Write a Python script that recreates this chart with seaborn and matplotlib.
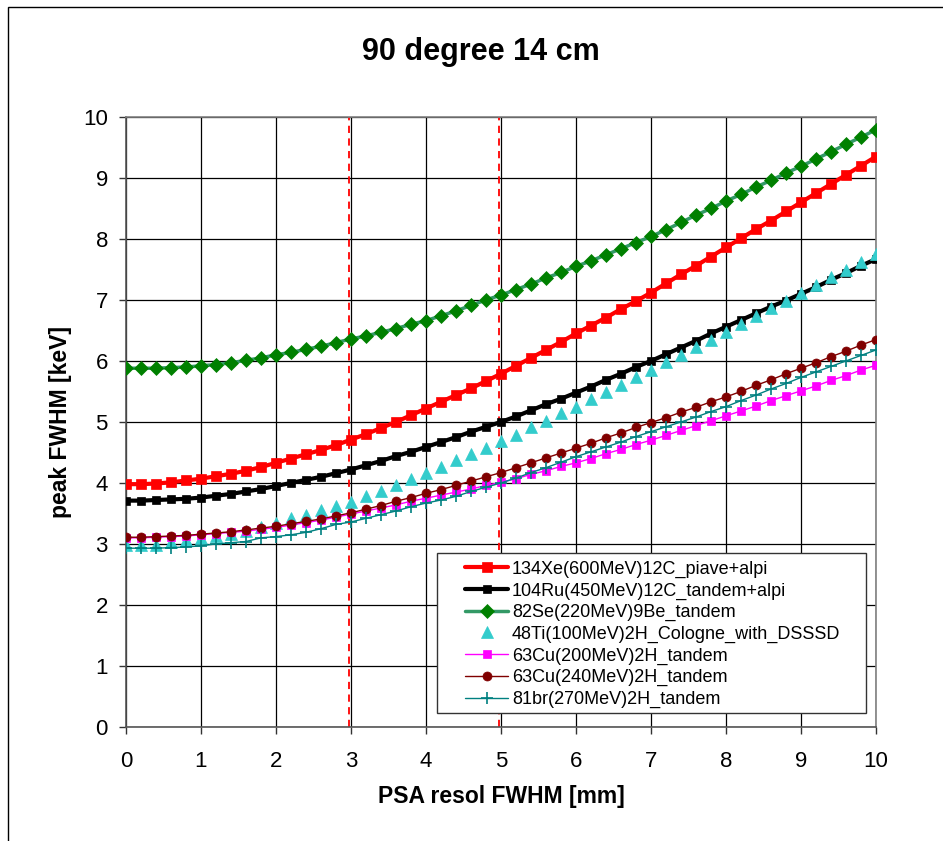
import numpy as np
import pandas as pd
import matplotlib
matplotlib.use("Agg")
import matplotlib.pyplot as plt
from matplotlib.patches import Rectangle
import seaborn as sns

# PSA resolution (mm), 0 .. 10 in steps of 0.2
psa = np.round(np.arange(0, 10.01, 0.2), 1)

xe134 = [3.98, 3.98, 3.99, 4.01, 4.04, 4.07,
         4.11, 4.15, 4.20, 4.26, 4.33,
         4.40, 4.47, 4.54, 4.62, 4.71,
         4.80, 4.90, 5.00, 5.11, 5.22,
         5.33, 5.44, 5.55, 5.67, 5.79,
         5.92, 6.05, 6.18, 6.31, 6.45,
         6.58, 6.71, 6.85, 6.98, 7.12,
         7.27, 7.42, 7.56, 7.71, 7.86,
         8.01, 8.16, 8.30, 8.45, 8.60,
         8.75, 8.90, 9.05, 9.20, 9.35]

ru104 = [3.71, 3.71, 3.72, 3.73, 3.74, 3.76,
         3.79, 3.82, 3.86, 3.90, 3.95,
         4.00, 4.05, 4.10, 4.16, 4.22,
         4.29, 4.36, 4.44, 4.51, 4.59,
         4.67, 4.75, 4.84, 4.92, 5.00,
         5.09, 5.19, 5.29, 5.38, 5.48,
         5.58, 5.69, 5.79, 5.90, 6.00,
         6.11, 6.22, 6.33, 6.45, 6.56,
         6.67, 6.78, 6.89, 6.99, 7.10,
         7.21, 7.33, 7.44, 7.56, 7.67]

se82 = [5.88, 5.88, 5.88, 5.89, 5.90, 5.92,
        5.94, 5.97, 6.01, 6.05, 6.10,
        6.14, 6.19, 6.24, 6.30, 6.36,
        6.41, 6.47, 6.53, 6.60, 6.66,
        6.74, 6.82, 6.91, 7.00, 7.08,
        7.17, 7.26, 7.36, 7.45, 7.55,
        7.64, 7.74, 7.84, 7.94, 8.04,
        8.15, 8.27, 8.39, 8.50, 8.62,
        8.73, 8.85, 8.96, 9.08, 9.19,
        9.31, 9.43, 9.55, 9.67, 9.79]

ti48 = [2.98, 2.98, 2.99, 3.03, 3.06, 3.09,
        3.13, 3.17, 3.22, 3.28, 3.35,
        3.42, 3.48, 3.55, 3.62, 3.69,
        3.78, 3.87, 3.97, 4.06, 4.16,
        4.26, 4.37, 4.47, 4.58, 4.68,
        4.79, 4.91, 5.02, 5.14, 5.25,
        5.37, 5.49, 5.61, 5.73, 5.85,
        5.98, 6.10, 6.23, 6.35, 6.48,
        6.61, 6.73, 6.86, 6.98, 7.11,
        7.24, 7.37, 7.49, 7.62, 7.75]

cu63_200 = [3.10, 3.10, 3.11, 3.12, 3.13, 3.15,
            3.17, 3.19, 3.21, 3.24, 3.27,
            3.31, 3.35, 3.39, 3.44, 3.49,
            3.54, 3.59, 3.64, 3.70, 3.75,
            3.80, 3.85, 3.90, 3.96, 4.01,
            4.07, 4.14, 4.20, 4.27, 4.33,
            4.40, 4.48, 4.55, 4.63, 4.70,
            4.78, 4.86, 4.94, 5.02, 5.10,
            5.18, 5.26, 5.35, 5.43, 5.51,
            5.59, 5.68, 5.76, 5.85, 5.93]

cu63_240 = [3.11, 3.11, 3.12, 3.13, 3.14, 3.16,
            3.18, 3.20, 3.23, 3.26, 3.29,
            3.33, 3.37, 3.41, 3.46, 3.51,
            3.57, 3.63, 3.70, 3.76, 3.83,
            3.89, 3.96, 4.03, 4.10, 4.17,
            4.25, 4.33, 4.41, 4.49, 4.57,
            4.65, 4.74, 4.82, 4.91, 4.99,
            5.07, 5.16, 5.24, 5.33, 5.41,
            5.50, 5.60, 5.69, 5.79, 5.88,
            5.97, 6.07, 6.16, 6.26, 6.35]

br81 = [2.93, 2.93, 2.93, 2.94, 2.95, 2.97,
        3.00, 3.02, 3.04, 3.10, 3.12,
        3.15, 3.19, 3.25, 3.32, 3.36,
        3.42, 3.48, 3.54, 3.61, 3.67,
        3.72, 3.78, 3.86, 3.93, 4.00,
        4.08, 4.17, 4.25, 4.34, 4.43,
        4.51, 4.59, 4.67, 4.76, 4.84,
        4.92, 5.00, 5.08, 5.17, 5.25,
        5.35, 5.44, 5.54, 5.63, 5.73,
        5.82, 5.91, 6.00, 6.09, 6.18]

labels = ["134Xe(600MeV)12C_piave+alpi",
          "104Ru(450MeV)12C_tandem+alpi",
          "82Se(220MeV)9Be_tandem",
          "48Ti(100MeV)2H_Cologne_with_DSSSD",
          "63Cu(200MeV)2H_tandem",
          "63Cu(240MeV)2H_tandem",
          "81br(270MeV)2H_tandem"]
series = [xe134, ru104, se82, ti48, cu63_200, cu63_240, br81]
cut_lines = [2.97, 4.97]

styles = [
    dict(color="#FF0000", mfc="#FF0000", marker="s", lw=3.0, ms=6.5, ls="-"),
    dict(color="#000000", mfc="#000000", marker="s", lw=3.0, ms=5.5, ls="-"),
    dict(color="#339966", mfc="#008000", marker="D", lw=2.5, ms=7.5, ls="-"),
    dict(color="#33CCCC", mfc="#33CCCC", marker="^", lw=0, ms=8.5, ls=""),
    dict(color="#FF00FF", mfc="#FF00FF", marker="s", lw=1.0, ms=5.5, ls="-"),
    dict(color="#800000", mfc="#800000", marker="o", lw=1.0, ms=6.5, ls="-"),
    dict(color="#008080", mfc="#008080", marker="+", lw=1.0, ms=8.5, ls="-"),
]

sns.set_theme(style="white")
plt.rcParams['font.family'] = ['Liberation Sans', 'DejaVu Sans']
plt.rcParams['text.color'] = 'black'
plt.rcParams['axes.labelcolor'] = 'black'

fig, ax = plt.subplots(figsize=(9.43, 8.41), dpi=100)
fig.subplots_adjust(left=0.1336, right=0.929, bottom=0.1356, top=0.861)

# outer frame of the chart area
fig.patches.append(Rectangle((8 / 943, -0.05), 1.2, 1 - 7 / 841 + 0.05,
                             transform=fig.transFigure, fill=False,
                             edgecolor="black", lw=1.0, zorder=-1))

for x in cut_lines:
    ax.plot([x, x], [0, 10], color="#FF0000", ls=(0, (4, 3)), lw=1.3, zorder=2)

# series drawn in legend order, later ones on top
for k, (lab, vals, st) in enumerate(zip(labels, series, styles)):
    df = pd.DataFrame({"x": psa, "y": vals})
    sns.lineplot(data=df, x="x", y="y", ax=ax, label=lab,
                 color=st["color"], marker=st["marker"], markersize=st["ms"],
                 markerfacecolor=st["mfc"], markeredgecolor=st["mfc"],
                 markeredgewidth=1.2 if st["marker"] == "+" else 0.5,
                 linewidth=st["lw"], linestyle=st["ls"], zorder=3 + k * 0.1)

ax.set_xlim(0, 10)
ax.set_ylim(0, 10)
ax.set_xticks(range(0, 11))
ax.set_yticks(range(0, 11))
ax.grid(True, color="#000000", lw=0.9)
ax.set_axisbelow(True)
for s in ax.spines.values():
    s.set_color("#808080")
    s.set_linewidth(1.2)
ax.spines["left"].set_color("#555555")
ax.spines["bottom"].set_color("#555555")
ax.tick_params(axis="both", which="major", direction="out", length=5,
               width=1, color="#333333", labelsize=16, labelcolor="black",
               bottom=True, left=True)
ax.tick_params(axis="x", pad=12)
ax.tick_params(axis="y", pad=8)

ax.set_xlabel("PSA resol FWHM [mm]", fontsize=16.5, fontweight="bold", labelpad=10)
ax.set_ylabel("peak FWHM [keV]", fontsize=16.5, fontweight="bold", labelpad=8)
fig.text(0.51, 1 - 52 / 841, "90 degree 14 cm", fontsize=22, fontweight="bold",
         ha="center", va="center")

# legend frame drawn separately so it can be wider than the entries
ax.add_patch(Rectangle((0.4147, 0.023), 0.572, 0.2622, transform=ax.transAxes,
                       facecolor="white", edgecolor="#333333", lw=1.0, zorder=4))
leg = ax.legend(loc="lower left", bbox_to_anchor=(0.452, 0.031), fontsize=13,
                frameon=False, labelspacing=0.25, handlelength=2.4,
                handletextpad=0.2, borderpad=0, borderaxespad=0)
leg.set_zorder(5)

fig.savefig("out.png", dpi=100, facecolor="white")
